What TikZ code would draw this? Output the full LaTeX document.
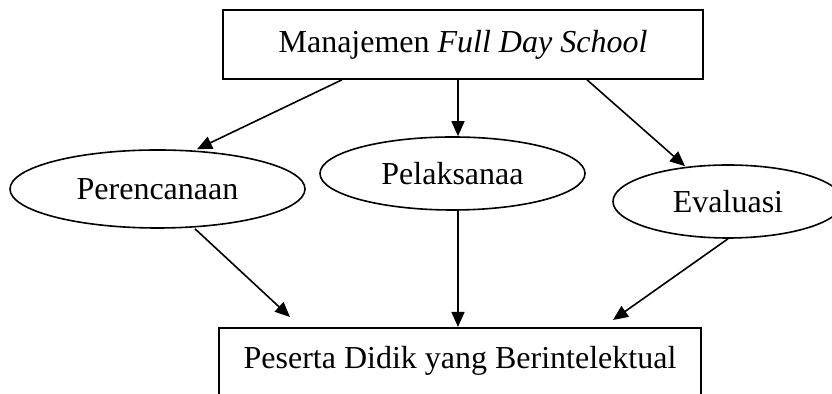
\documentclass[tikz,border=0pt]{standalone}
\usepackage{fontspec}
\setmainfont{Liberation Serif}
\usetikzlibrary{shapes.geometric,arrows.meta}

\begin{document}
\begin{tikzpicture}[x=.5pt,y=-.5pt,line width=.8pt,
  font=\fontsize{16}{19}\selectfont,
  box/.style={draw,rectangle,inner sep=0pt},
  oval/.style={draw,ellipse,inner sep=0pt},
  arr/.style={-{Triangle[length=7.5pt,width=6.5pt]}}]
\useasboundingbox (0,0) rectangle (832,394);
\node[box,minimum width=240pt,minimum height=34.5pt] (top) at (463,44.5) {Manajemen \textit{Full Day School}};
\node[oval,minimum width=147.5pt,minimum height=39pt] (per) at (157.5,189) {Perencanaan};
\node[oval,minimum width=132.5pt,minimum height=36.5pt] (pel) at (452.5,173.5) {Pelaksanaa};
\node[oval,minimum width=115pt,minimum height=36.5pt] (eva) at (728,201.5) {Evaluasi};
\node[box,anchor=north,minimum width=241pt,text height=20.5pt,text depth=26pt] (bot) at (460,327) {Peserta Didik yang Berintelektual};
\draw[arr] ([xshift=-60.5pt]top.south) -- ([xshift=19.75pt]per.north);
\draw[arr] ([xshift=-2.5pt]top.south) -- ([xshift=2.75pt]pel.north);
\draw[arr] ([xshift=62pt]top.south) -- ([xshift=-21.5pt,yshift=-1pt]eva.north);
\draw[arr] ([xshift=18.75pt]per.south) -- ([xshift=-85pt,yshift=5pt]bot.north);
\draw[arr] ([xshift=2.75pt]pel.south) -- ([xshift=2.75pt]pel.south |- bot.north);
\draw[arr] (eva.south) -- ([xshift=76.5pt,yshift=3.5pt]bot.north);
\end{tikzpicture}
\end{document}
